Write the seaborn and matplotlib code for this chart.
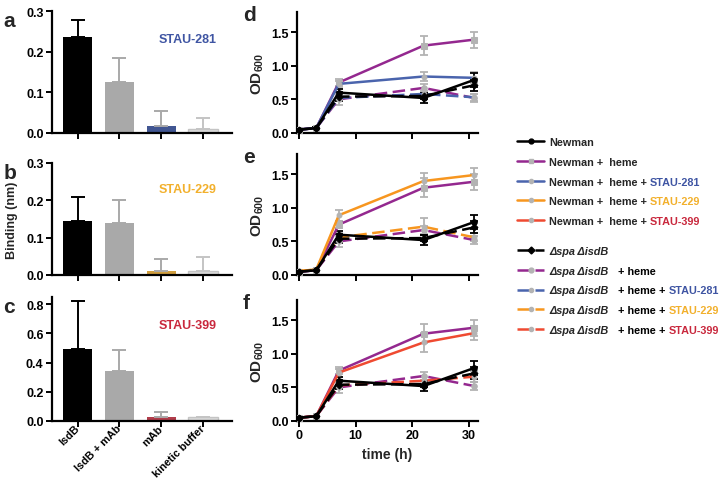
import numpy as np
import pandas as pd
import matplotlib
matplotlib.use("Agg")
import matplotlib.pyplot as plt
from matplotlib.lines import Line2D
import seaborn as sns

# ---- bar panels (a-c) ----
bar_cats = ["IsdB", "IsdB + mAb", "mAb", "kinetic buffer"]
mabs = ["STAU-281", "STAU-229", "STAU-399"]
bar_vals = {
    "STAU-281": [0.237, 0.125, 0.018, 0.010],
    "STAU-229": [0.145, 0.138, 0.010, 0.010],
    "STAU-399": [0.490, 0.340, 0.028, 0.028],
}
bar_errs = {
    "STAU-281": [0.040, 0.060, 0.035, 0.027],
    "STAU-229": [0.063, 0.062, 0.032, 0.039],
    "STAU-399": [0.330, 0.148, 0.035, 0.000],
}

# ---- growth curves (d-f) ----
time_h = [0, 3, 7, 22, 31]
newman = [0.05, 0.07, 0.60, 0.52, 0.79]
newman_err = [0.01, 0.01, 0.06, 0.07, 0.10]
newman_heme = [0.05, 0.07, 0.75, 1.30, 1.39]
newman_heme_err = [0.01, 0.01, 0.05, 0.14, 0.12]
dspa = [0.05, 0.07, 0.54, 0.55, 0.71]
dspa_err = [0.01, 0.01, 0.07, 0.05, 0.09]
dspa_heme = [0.05, 0.07, 0.50, 0.67, 0.52]
dspa_heme_err = [0.01, 0.01, 0.08, 0.06, 0.06]
mab_heme = {
    "STAU-281": [0.05, 0.07, 0.73, 0.84, 0.82],
    "STAU-229": [0.06, 0.08, 0.89, 1.40, 1.49],
    "STAU-399": [0.05, 0.07, 0.72, 1.17, 1.31],
}
mab_heme_err = {
    "STAU-281": [0.01, 0.01, 0.04, 0.07, 0.08],
    "STAU-229": [0.01, 0.01, 0.08, 0.12, 0.10],
    "STAU-399": [0.01, 0.01, 0.06, 0.14, 0.10],
}
dspa_mab = {
    "STAU-281": [0.05, 0.07, 0.52, 0.58, 0.53],
    "STAU-229": [0.06, 0.08, 0.56, 0.72, 0.56],
    "STAU-399": [0.05, 0.07, 0.53, 0.60, 0.66],
}
dspa_mab_err = {
    "STAU-281": [0.01, 0.01, 0.05, 0.05, 0.05],
    "STAU-229": [0.01, 0.01, 0.06, 0.13, 0.06],
    "STAU-399": [0.01, 0.01, 0.05, 0.06, 0.08],
}

mab_bar_color = {"STAU-281": "#34509f", "STAU-229": "#e8a526", "STAU-399": "#c42a3c"}
mab_line_color = {"STAU-281": "#4a64ad", "STAU-229": "#f7961f", "STAU-399": "#ef4a31"}
mab_text_color = {"STAU-281": "#3f55a3", "STAU-229": "#f2b02c", "STAU-399": "#c9283d"}
purple = "#94288f"
gray_mk = "#b3b3b3"
dash = (0, (5, 2.2))

sns.set_theme(style="ticks")
plt.rcParams["font.family"] = ["Liberation Sans", "DejaVu Sans"]
plt.rcParams["font.weight"] = "bold"
plt.rcParams["mathtext.fontset"] = "custom"
plt.rcParams["mathtext.bf"] = "Liberation Sans:bold"
plt.rcParams["mathtext.rm"] = "Liberation Sans:bold"

fig = plt.figure(figsize=(7.2, 4.85), dpi=100)

bar_pos = [[0.072, 0.724, 0.25, 0.251], [0.072, 0.431, 0.25, 0.231], [0.072, 0.130, 0.25, 0.256]]
bar_ylim = [0.3, 0.3, 0.85]
bar_yticks = [[0, 0.1, 0.2, 0.3], [0, 0.1, 0.2, 0.3], [0, 0.2, 0.4, 0.6, 0.8]]
letters = ["a", "b", "c"]


def style_ax(ax):
    sns.despine(ax=ax)
    for s in ["left", "bottom"]:
        ax.spines[s].set_linewidth(1.6)
        ax.spines[s].set_color("black")
    ax.tick_params(width=1.4, length=4, labelsize=9, colors="black", pad=2)
    for t in ax.get_xticklabels() + ax.get_yticklabels():
        t.set_fontweight("bold")


for i, m in enumerate(mabs):
    ax = fig.add_axes(bar_pos[i])
    colors = ["#000000", "#a9a9a9", mab_bar_color[m], "#dadada"]
    df = pd.DataFrame({"cat": bar_cats, "val": bar_vals[m]})
    sns.barplot(data=df, x="cat", y="val", hue="cat", palette=colors, legend=False,
                width=0.7, ax=ax, edgecolor=None, linewidth=0)
    ax.patches[3].set_edgecolor("#c4c4c4")
    ax.patches[3].set_linewidth(1)
    ecols = ["#000000", "#a9a9a9", "#a9a9a9", "#c4c4c4"]
    for j in range(4):
        ax.errorbar(j, bar_vals[m][j], yerr=[[0], [bar_errs[m][j]]], fmt="none",
                    ecolor=ecols[j], elinewidth=1.4, capsize=5, capthick=1.4)
    ax.set_xlim(-0.62, 3.69)
    ax.set_ylim(0, bar_ylim[i])
    ax.set_yticks(bar_yticks[i])
    ax.set_yticklabels([f"{v:.1f}" for v in bar_yticks[i]])
    ax.set_xlabel("")
    ax.set_ylabel("")
    style_ax(ax)
    if i < 2:
        ax.set_xticklabels([])
    else:
        ax.tick_params(axis="x", pad=0)
        ax.set_xticklabels(bar_cats, rotation=45, ha="right", va="center",
                           rotation_mode="anchor", fontweight="bold", fontsize=7.8)
    if i == 1:
        ax.set_ylabel("Binding (nm)", fontsize=9, fontweight="bold", labelpad=6)
    ax.text(0.755, 0.77, m, transform=ax.transAxes, ha="center", va="center",
            color=mab_text_color[m], fontsize=9, fontweight="bold")
    ax.text(-0.27, 1.0, letters[i], transform=ax.transAxes, fontsize=15,
            fontweight="bold", va="top", ha="left")

line_pos = [[0.4125, 0.724, 0.251, 0.249], [0.4125, 0.431, 0.251, 0.249], [0.4125, 0.130, 0.251, 0.249]]
letters = ["d", "e", "f"]


def draw_series(ax, y, err, color, ls, marker, mfc, ecolor, ms=4):
    ax.errorbar(time_h, y, yerr=err, fmt="none", ecolor=ecolor, elinewidth=1.3,
                capsize=3, capthick=1.3, zorder=3)
    sns.lineplot(x=time_h, y=y, ax=ax, color=color, linestyle=ls, linewidth=1.8,
                 marker=marker, markersize=ms, markerfacecolor=mfc, markeredgecolor=mfc,
                 zorder=4)


for i, m in enumerate(mabs):
    ax = fig.add_axes(line_pos[i])
    draw_series(ax, newman_heme, newman_heme_err, purple, "-", "s", gray_mk, gray_mk)
    draw_series(ax, mab_heme[m], mab_heme_err[m], mab_line_color[m], "-", "o", gray_mk, gray_mk, 3.5)
    draw_series(ax, dspa_heme, dspa_heme_err, purple, dash, "o", gray_mk, gray_mk)
    draw_series(ax, dspa_mab[m], dspa_mab_err[m], mab_line_color[m], dash, "o", gray_mk, gray_mk, 3.5)
    draw_series(ax, dspa, dspa_err, "black", dash, "D", "black", "black", 3.5)
    draw_series(ax, newman, newman_err, "black", "-", "o", "black", "black", 4)
    ax.set_xlim(-0.4, 31.6)
    ax.set_ylim(0, 1.8)
    ax.set_xticks([0, 10, 20, 30])
    ax.set_yticks([0, 0.5, 1.0, 1.5])
    ax.set_yticklabels(["0.0", "0.5", "1.0", "1.5"])
    style_ax(ax)
    if i < 2:
        ax.set_xticklabels([])
    else:
        ax.set_xlabel("time (h)", fontsize=10, fontweight="bold")
    ax.set_ylabel(r"$\mathbf{OD}_{\mathbf{600}}$", fontsize=11, labelpad=4)
    ax.text(-0.3, 1.06, letters[i], transform=ax.transAxes, fontsize=15,
            fontweight="bold", va="top", ha="left")

# ---- legend ----
h1 = [
    Line2D([], [], color="black", lw=1.8, marker="o", ms=3.5, mfc="black", mec="black"),
    Line2D([], [], color=purple, lw=1.8, marker="s", ms=3.5, mfc=gray_mk, mec=gray_mk),
]
for m in mabs:
    h1.append(Line2D([], [], color=mab_line_color[m], lw=1.8, marker="o", ms=3,
                     mfc=gray_mk, mec=gray_mk))
h2 = [Line2D([], [], color="black", lw=1.8, ls=dash, marker="D", ms=3.5, mfc="black", mec="black"),
      Line2D([], [], color=purple, lw=1.8, ls=dash, marker="o", ms=3.5, mfc=gray_mk, mec=gray_mk)]
for m in mabs:
    h2.append(Line2D([], [], color=mab_line_color[m], lw=1.8, ls=dash, marker="o", ms=3,
                     mfc=gray_mk, mec=gray_mk))

lab1 = ["Newman", "Newman +  heme"] + ["Newman +  heme +"] * 3
lab2 = ["\u0394spa \u0394isdB"] * 5
fs = 7.8
leg_kw = dict(frameon=False, fontsize=fs, handlelength=2.5, handletextpad=0.45,
              labelspacing=0.9, borderaxespad=0, borderpad=0, loc="upper left")
leg1 = fig.legend(h1, lab1, bbox_to_anchor=(0.718, 1 - 138 / 485), **leg_kw)
leg2 = fig.legend(h2, lab2, bbox_to_anchor=(0.718, 1 - 247 / 485), **leg_kw)
for t in leg1.get_texts():
    t.set_fontweight("bold")
for t in leg2.get_texts():
    t.set_fontweight("bold")
    t.set_fontstyle("italic")

# coloured tails of the legend labels, placed after the legend is laid out
fig.canvas.draw()
rend = fig.canvas.get_renderer()
W, H = fig.bbox.width, fig.bbox.height


def tail(prev, s, color, gap=3):
    bb = prev.get_window_extent(rend)
    t = fig.text((bb.x1 + gap) / W, (bb.y0 + bb.y1) / 2 / H, s, ha="left", va="center",
                 color=color, fontsize=fs, fontweight="bold")
    return t


for k, m in enumerate(mabs):
    tail(leg1.get_texts()[k + 2], m, mab_text_color[m])
suffix2 = [None, None] + mabs
for k, t in enumerate(leg2.get_texts()):
    if k == 0:
        continue
    a = tail(t, "+ heme", "black", gap=10)
    if suffix2[k] is not None:
        b = tail(a, "+", "black")
        tail(b, suffix2[k], mab_text_color[suffix2[k]])

fig.savefig("out.png", dpi=100)
